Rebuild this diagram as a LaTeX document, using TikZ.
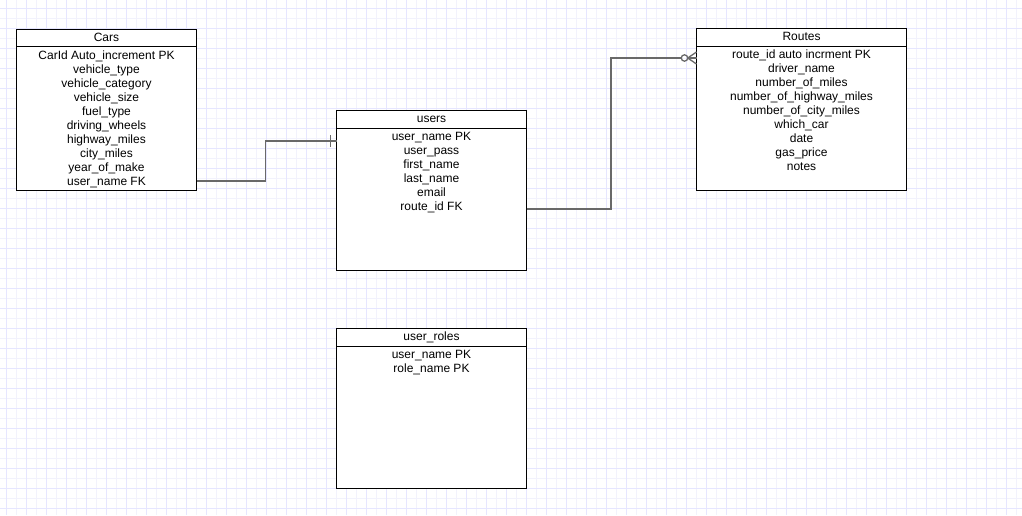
\documentclass[tikz,border=0pt]{standalone}
\usepackage{fontspec}
\setmainfont{Liberation Sans}
\usetikzlibrary{positioning}
\definecolor{gridminor}{RGB}{242,242,252}
\definecolor{gridmajor}{RGB}{230,230,255}
\definecolor{linkgray}{RGB}{105,105,105}
\begin{document}
\begin{tikzpicture}[x=1pt, y=-1pt,
  font=\fontsize{12}{14}\selectfont,
  node distance=0pt,
  tabletitle/.style={draw=black, fill=white, line width=1pt, outer sep=0pt, inner sep=0pt, minimum height=17.5pt, text height=9pt, text depth=2.5pt},
  tablebody/.style={draw=black, fill=white, line width=1pt, outer sep=0pt, inner sep=0pt},
  fieldlist/.style={align=center, anchor=north, inner xsep=0pt, inner ysep=3.8pt},
  minorline/.style={draw=gridminor, line width=1pt},
  majorline/.style={draw=gridmajor, line width=1pt},
  link/.style={draw=linkgray, line width=1.3pt}]
  \useasboundingbox (0,0) rectangle (1022,515);
  \fill[white] (0,0) rectangle (1022,515);
  % grid
  \foreach \i in {0,...,101} {
    \ifodd\i \draw[minorline] ({6.7+10*\i},0) -- ++(0,515); \fi
  }
  \foreach \i in {0,...,51} {
    \ifodd\i \draw[minorline] (0,{8.3+10*\i}) -- ++(1022,0); \fi
  }
  \foreach \i in {0,...,50} \draw[majorline] ({6.7+20*\i},0) -- ++(0,515);
  \foreach \i in {0,...,25} \draw[majorline] (0,{8.3+20*\i}) -- ++(1022,0);

  % Cars
  \node[tabletitle, minimum width=180pt] (cars) at (106.5,37.75) {Cars};
  \node[tablebody, below=of cars, minimum width=180pt, minimum height=144pt] (carsbody) {};
  \node[fieldlist] (carsfields) at (carsbody.north) {CarId Auto\_increment PK\\vehicle\_type\\vehicle\_category\\vehicle\_size\\fuel\_type\\driving\_wheels\\highway\_miles\\city\_miles\\year\_of\_make\\user\_name FK};

  % users
  \node[tabletitle, minimum width=190pt] (users) at (431.5,119.25) {users};
  \node[tablebody, below=of users, minimum width=190pt, minimum height=142pt] (usersbody) {};
  \node[fieldlist] (usersfields) at (usersbody.north) {user\_name PK\\user\_pass\\first\_name\\last\_name\\email\\route\_id FK};

  % user_roles
  \node[tabletitle, minimum width=190pt] (roles) at (431.5,337.25) {user\_roles};
  \node[tablebody, below=of roles, minimum width=190pt, minimum height=142pt] (rolesbody) {};
  \node[fieldlist] (rolesfields) at (rolesbody.north) {user\_name PK\\role\_name PK};

  % Routes
  \node[tabletitle, minimum width=210pt] (routes) at (801.5,37.25) {Routes};
  \node[tablebody, below=of routes, minimum width=210pt, minimum height=144pt] (routesbody) {};
  \node[fieldlist] (routesfields) at (routesbody.north) {route\_id auto incrment PK\\driver\_name\\number\_of\_miles\\number\_of\_highway\_miles\\number\_of\_city\_miles\\which\_car\\date\\gas\_price\\notes};

  % Cars -- users (one)
  \coordinate (carsout) at ([yshift=9.5pt]carsbody.south east);
  \coordinate (usersin) at ([yshift=-13pt]usersbody.north west);
  \draw[link] (carsout) -- ++(69,0) |- (usersin);
  \draw[link] ([xshift=-6pt]usersin) ++(0,-6) -- ++(0,12);

  % users -- Routes (zero or many)
  \coordinate (usersout) at ([yshift=61pt]usersbody.south east);
  \coordinate (routesin) at ([yshift=-12pt]routesbody.north west);
  \draw[link] (usersout) -- ++(84.5,0) |- ([xshift=-15.5pt]routesin);
  \draw[link] ([xshift=-12pt]routesin) circle[radius=3.2pt];
  \draw[link] ([xshift=-8.8pt]routesin) -- (routesin);
  \draw[link] ([xshift=-8.8pt]routesin) -- ++(8.8,-6);
  \draw[link] ([xshift=-8.8pt]routesin) -- ++(8.8,6);
\end{tikzpicture}
\end{document}
